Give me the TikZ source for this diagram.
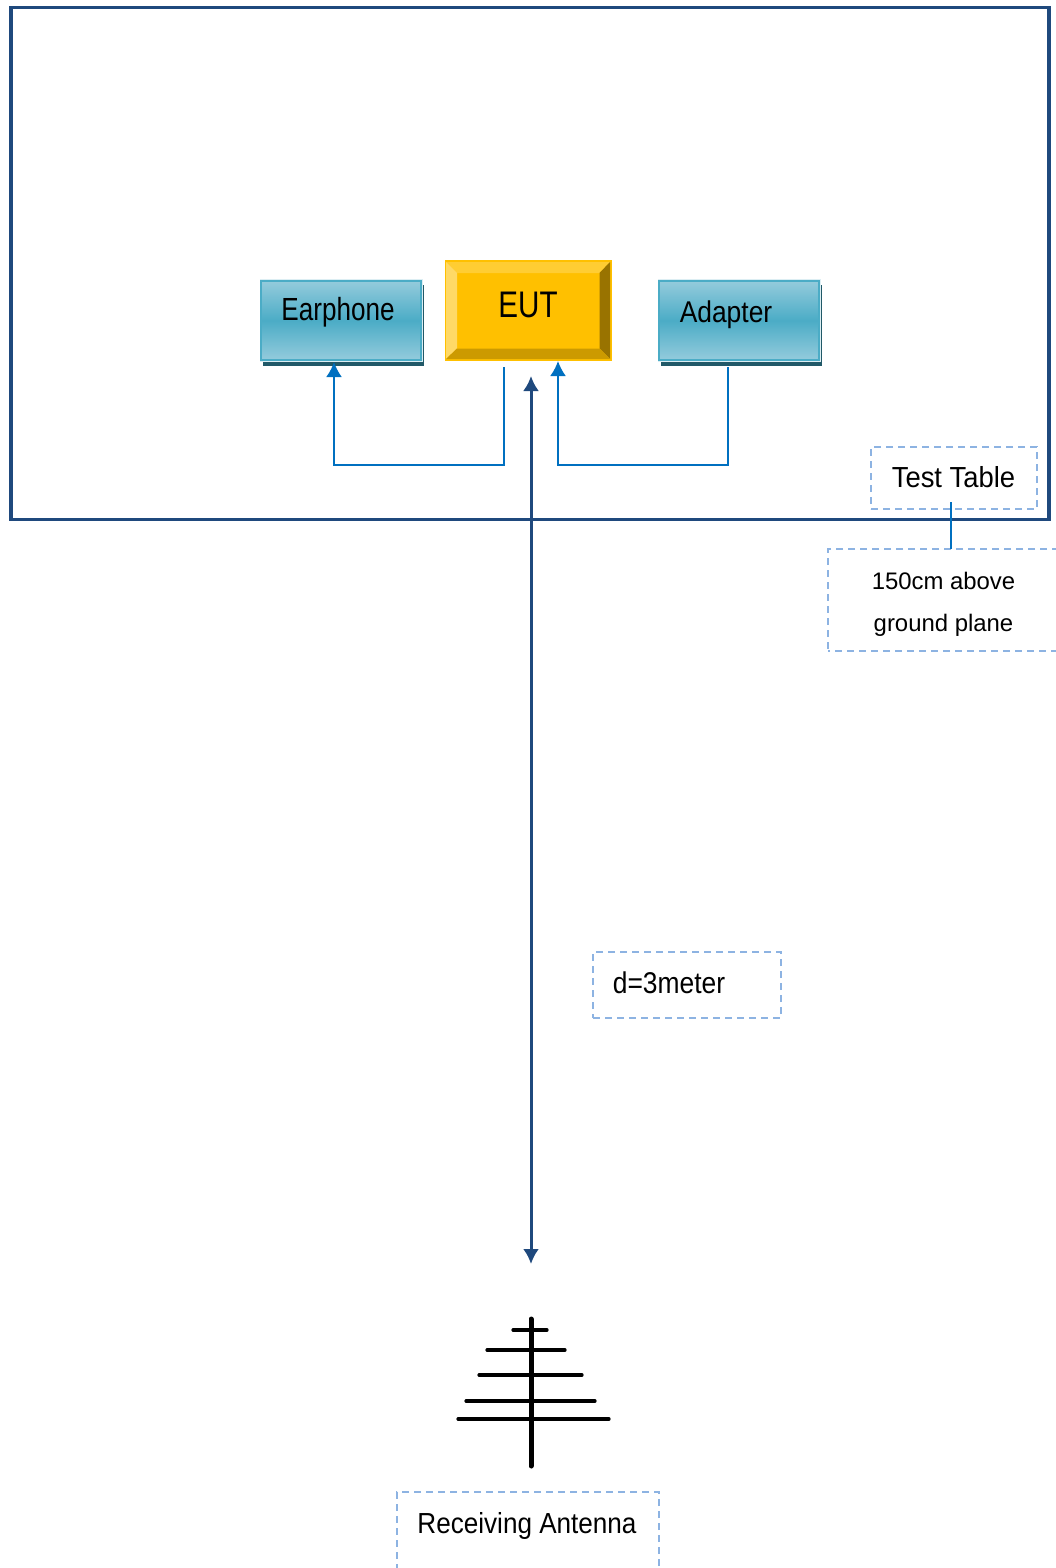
\documentclass[tikz,border=0pt]{standalone}
\usepackage{fontspec}
\usepackage{graphicx}
\setmainfont{Liberation Sans}
\definecolor{frame}{HTML}{1F497D}
\definecolor{wire}{HTML}{0070C0}
\definecolor{dashc}{HTML}{8DB3E2}
\definecolor{tealm}{HTML}{4BACC6}
\definecolor{teall}{HTML}{94CBDC}
\definecolor{teald}{HTML}{215968}
\definecolor{halo}{HTML}{DCEEF3}
\definecolor{eutc}{HTML}{FFC000}
\newcommand{\lbl}[3]{\scalebox{#2}[1]{\fontsize{#1}{#1}\selectfont #3}}
\tikzset{
  every node/.style={outer sep=0pt},
  dashbox/.style={draw=dashc,line width=1.9pt,dash pattern=on 7pt off 5pt,fill=none},
  lab/.style={inner sep=0pt,anchor=base,text=black},
  teal box/.style={draw=tealm,line width=2.4pt,top color=teall,bottom color=teall,middle color=tealm,inner sep=0pt,anchor=north west,minimum width=#1,minimum height=79pt},
  wireline/.style={draw=wire,line width=2.1pt},
  tip/.style={-{Latex[length=15pt,width=16pt]}},
  mainline/.style={draw=frame,line width=3pt},
  ant/.style={draw=black,line cap=round}
}
\usetikzlibrary{arrows.meta,shapes.geometric}
\begin{document}
\begin{tikzpicture}[x=1pt,y=-1pt]
\useasboundingbox (0,0) rectangle (1056,1568);
\clip (0,0) rectangle (1056,1568);
% table frame
\node[draw=frame,line width=3.8pt,inner sep=0pt,minimum width=1038pt,minimum height=512pt,anchor=north west] (tableframe) at (11,7.5) {};
% shadows
\fill[teald] (263,285) rectangle (424,366);
\fill[teald] (661,285) rectangle (822,366);
% earphone
\fill[halo] (259.5,278.5) rectangle (422.5,361.5);
\node[teal box=160pt] (earphone) at (261,281) {};
\node[lab] (earphonetext) at (338,320) {\lbl{32}{0.815}{Earphone}};
% adapter
\fill[halo] (657.5,278.5) rectangle (820.5,361.5);
\node[teal box=160pt] (adapter) at (659,281) {};
\node[lab] (adaptertext) at (726,322) {\lbl{30}{0.88}{Adapter}};
% EUT
\node[fill=eutc,inner sep=0pt,minimum width=167pt,minimum height=101pt,anchor=north west] (eut) at (444.5,260) {};
\fill[eutc!80!white] (446,262) -- (610,262) -- (599.5,273) -- (457,273) -- cycle;
\fill[eutc!60!white] (446,262) -- (457,273) -- (457,348.5) -- (446,359) -- cycle;
\fill[eutc!60!black] (610,262) -- (599.5,273) -- (599.5,348.5) -- (610,359) -- cycle;
\fill[eutc!80!black] (446,359) -- (457,348.5) -- (599.5,348.5) -- (610,359) -- cycle;
\node[lab] (euttext) at (528,317) {\lbl{37}{0.8}{EUT}};
% EUT to earphone / adapter wires
\coordinate (eutout) at (504,367);
\coordinate (kneeA) at (504,465);
\coordinate (kneeB) at (334,465);
\coordinate (earin) at (334,362);
\coordinate (adout) at (728,367);
\coordinate (kneeC) at (728,465);
\coordinate (kneeD) at (558,465);
\coordinate (eutin) at (558,361);
\draw[wireline,tip] (eutout) -- (kneeA) -- (kneeB) -- (earin);
\draw[wireline,tip] (adout) -- (kneeC) -- (kneeD) -- (eutin);
% distance arrow
\coordinate (disttop) at (531,376);
\coordinate (distbot) at (531,1264);
\draw[mainline,{Latex[length=15pt,width=16pt]}-{Latex[length=15pt,width=16pt]}] (disttop) -- (distbot);
% test table
\node[dashbox,inner sep=0pt,minimum width=166pt,minimum height=62pt,anchor=north west] (testtable) at (871,447) {};
\node[lab] (testtext) at (953.5,487.5) {\lbl{29}{0.945}{Test Table}};
\node[dashbox,dash phase=5pt,inner sep=0pt,minimum width=260pt,minimum height=102pt,anchor=north west] (heightbox) at (828,549) {};
\node[lab] (h1) at (943.5,589) {\fontsize{23.9}{24}\selectfont 150cm above};
\node[lab] (h2) at (943.5,631) {\fontsize{23.9}{24}\selectfont ground plane};
\coordinate (testlink) at (951,502);
\coordinate (heightlink) at (951,549);
\draw[wireline] (testlink) -- (heightlink);
% distance label
\node[dashbox,inner sep=0pt,minimum width=188pt,minimum height=66pt,anchor=north west] (distbox) at (593,952) {};
\node[lab] (disttext) at (669,993.5) {\lbl{30}{0.88}{d=3meter}};
% antenna
\draw[ant,line width=5pt] (531,1319) -- (531,1466);
\draw[ant,line width=3.2pt] (513,1330) -- (547,1330);
\draw[ant,line width=3.2pt] (487,1350) -- (565,1350);
\draw[ant,line width=3.2pt] (479,1375) -- (582,1375);
\draw[ant,line width=3.2pt] (466,1401) -- (595,1401);
\draw[ant,line width=3.2pt] (458,1419) -- (609,1419);
% antenna label
\node[dashbox,inner sep=0pt,minimum width=262pt,minimum height=160pt,anchor=north west] (antbox) at (397,1492) {};
\node[lab] (anttext) at (527,1533) {\lbl{29}{0.9}{Receiving Antenna}};
\end{tikzpicture}
\end{document}
